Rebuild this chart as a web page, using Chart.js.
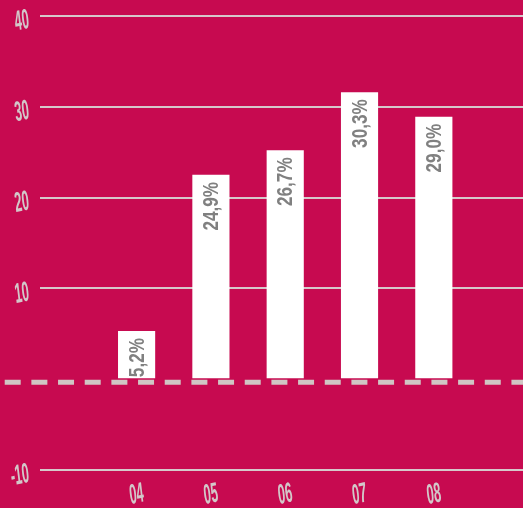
<!DOCTYPE html>
<html><head><meta charset="utf-8">
<script src="https://cdn.jsdelivr.net/npm/chart.js@4"></script>
<style>html,body{margin:0;padding:0;background:#C70A50;overflow:hidden;} #wrap{width:523px;height:508px;position:relative;}</style>
</head><body><div id="wrap"><canvas id="c"></canvas></div>
<script>
// ---- data ----
const years = ["04", "05", "06", "07", "08"];
const yearPos = [4, 5, 6, 7, 8];
const values = [5.3, 22.5, 25.2, 31.6, 28.9];
const valueLabels = ["5,2%", "24,9%", "26,7%", "30,3%", "29,0%"];
const yTickValues = [-10, 0, 10, 20, 30, 40];
const yTickLabels = ["-10", "", "10", "20", "30", "40"];

const FONT = '"Liberation Sans", Arial, sans-serif';
const TICK_COLOR = '#D3C7C9';
const GRID_COLOR = '#D6C8CB';

const zeroLine = {
  id: 'zeroLine',
  afterDatasetsDraw(chart) {
    const ctx = chart.ctx;
    const y = chart.scales.y.getPixelForValue(0) + 3;
    ctx.save();
    ctx.strokeStyle = '#D0C6C4';
    ctx.lineWidth = 5;
    ctx.setLineDash([16, 10.67]);
    ctx.beginPath();
    ctx.moveTo(4.7, y);
    ctx.lineTo(chart.width, y);
    ctx.stroke();
    ctx.restore();
  }
};

const barLabels = {
  id: 'barLabels',
  afterDatasetsDraw(chart) {
    const ctx = chart.ctx;
    const meta = chart.getDatasetMeta(0);
    ctx.save();
    ctx.fillStyle = '#808080';
    ctx.font = 'bold 22px ' + FONT;
    ctx.textAlign = 'right';
    ctx.textBaseline = 'middle';
    meta.data.forEach((bar, i) => {
      ctx.save();
      ctx.translate(bar.x + 1, bar.y);
      ctx.rotate(-Math.PI / 2);
      ctx.scale(0.78, 1);
      ctx.fillText(valueLabels[i], -7 / 0.78, 0);
      ctx.restore();
    });
    ctx.restore();
  }
};

// tick labels drawn at positions given by the chart's own scales
const tickLabels = {
  id: 'tickLabels',
  afterDraw(chart) {
    const ctx = chart.ctx;
    const xs = chart.scales.x, ys = chart.scales.y;
    const rot = -12 * Math.PI / 180;
    ctx.save();
    ctx.fillStyle = TICK_COLOR;
    ctx.font = 'italic bold 28px ' + FONT;
    ctx.textBaseline = 'middle';
    yTickValues.forEach((v, i) => {
      if (!yTickLabels[i]) return;
      const y = ys.getPixelForValue(v);
      ctx.save();
      ctx.translate(ys.right - 11, y + 4);
      ctx.rotate(rot);
      ctx.scale(0.46, 1);
      ctx.textAlign = 'right';
      ctx.fillText(yTickLabels[i], 0, 0);
      ctx.restore();
    });
    yearPos.forEach((v, i) => {
      const x = xs.getPixelForValue(v);
      ctx.save();
      ctx.translate(x, xs.top + 16);
      ctx.rotate(rot);
      ctx.scale(0.46, 1);
      ctx.textAlign = 'center';
      ctx.fillText(years[i], 0, 0);
      ctx.restore();
    });
    ctx.restore();
  }
};

new Chart(document.getElementById('c'), {
  type: 'bar',
  data: {
    datasets: [{
      data: yearPos.map((x, i) => ({ x: x, y: values[i] })),
      backgroundColor: '#FFFFFF',
      borderWidth: 0,
      barPercentage: 0.5,
      categoryPercentage: 1.0
    }]
  },
  options: {
    responsive: true,
    maintainAspectRatio: false,
    animation: false,
    layout: { padding: { top: 16, left: 0, right: 0, bottom: 0 } },
    plugins: { legend: { display: false }, tooltip: { enabled: false } },
    scales: {
      x: {
        type: 'linear',
        min: 2.7,
        max: 9.2,
        offset: false,
        grid: { display: false, drawTicks: false, offset: false },
        border: { display: false },
        afterBuildTicks(scale) { scale.ticks = yearPos.map(v => ({ value: v })); },
        afterFit(scale) { scale.height = 29; },
        ticks: { display: false }
      },
      y: {
        min: -11,
        max: 40,
        grid: {
          drawTicks: false,
          lineWidth: 2,
          color: (c) => (c.tick && c.tick.value === 0) ? 'rgba(0,0,0,0)' : GRID_COLOR
        },
        border: { display: false },
        afterBuildTicks(scale) { scale.ticks = yTickValues.map(v => ({ value: v })); },
        afterFit(scale) { scale.width = 40; },
        ticks: { display: false }
      }
    }
  },
  plugins: [zeroLine, barLabels, tickLabels]
});
</script>
</body></html>
